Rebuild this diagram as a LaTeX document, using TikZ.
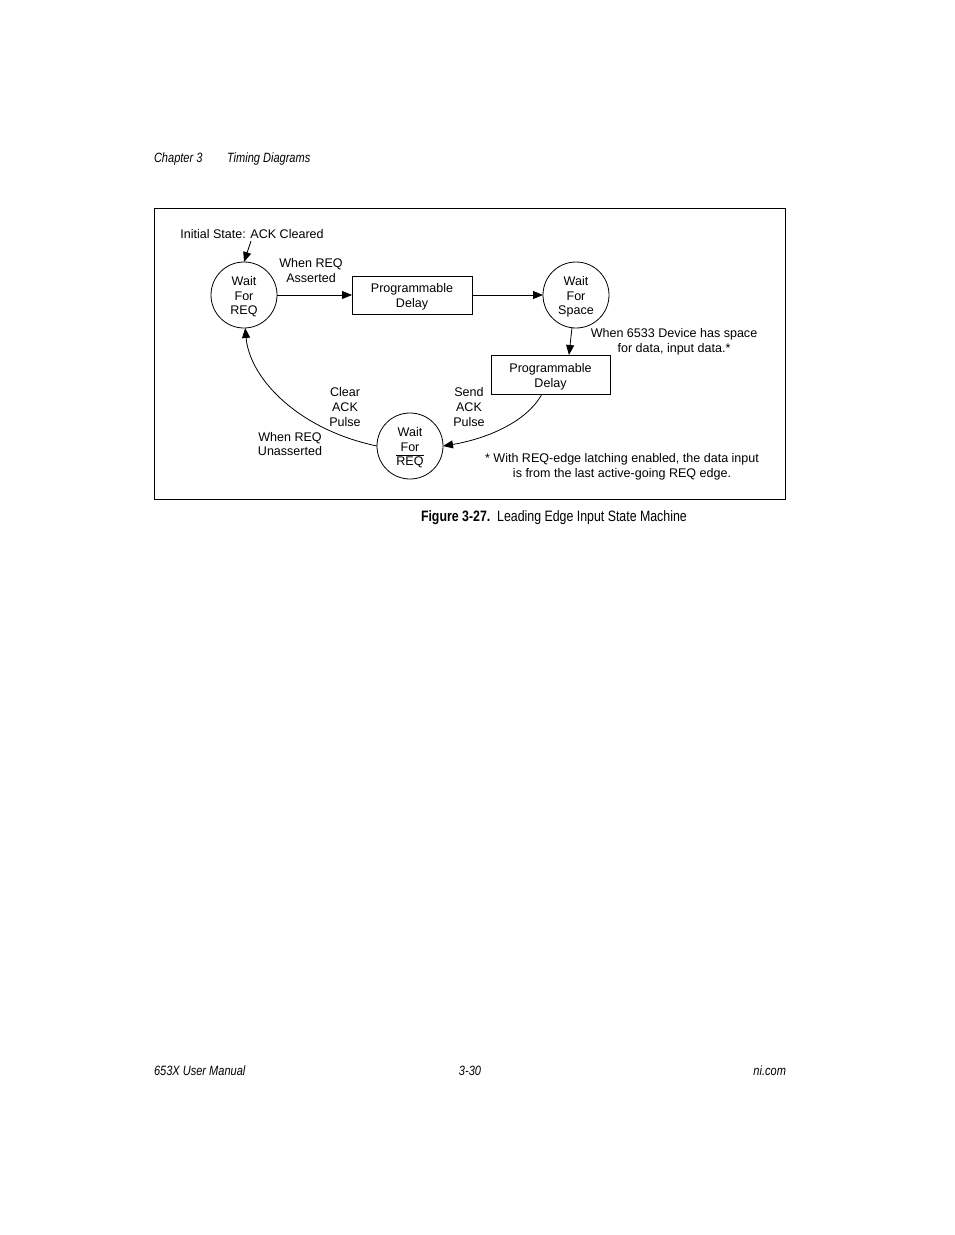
\documentclass[tikz,border=0pt]{standalone}
\usepackage{fontspec}
\setmainfont{Liberation Sans}
\newfontfamily\condfont[FakeStretch=0.82]{Liberation Sans}
\usetikzlibrary{arrows.meta}
\begin{document}
\begin{tikzpicture}[x=0.75pt,y=-0.75pt,
  every node/.style={inner sep=0pt,outer sep=0pt},
  txt/.style={font=\fontsize{9.4pt}{10.9pt}\selectfont,align=center},
  intxt/.style={txt,yshift=-1.5pt},
  hdr/.style={font=\condfont\itshape\fontsize{10.1pt}{11pt}\selectfont},
  state/.style={draw,circle,minimum size=49.5pt,line width=0.6pt},
  delaybox/.style={draw,rectangle,minimum width=90pt,minimum height=28.5pt,line width=0.6pt},
  arr/.style={line width=0.6pt,-{Triangle[length=7.5pt,width=6pt]}}]
\useasboundingbox (0,0) rectangle (954,1235);
% header and footer
\node[hdr,anchor=west] (hd1) at (154,159) {Chapter 3};
\node[hdr,anchor=west] (hd2) at (227,159) {Timing Diagrams};
\node[hdr,anchor=west] (ft1) at (154,1070.5) {653X User Manual};
\node[hdr] (ft2) at (470,1070.5) {3-30};
\node[hdr,anchor=east] (ft3) at (786,1070.5) {ni.com};
% frame
\draw[line width=0.6pt] (154,208) rectangle (785,499);
% states
\node[state,label={[intxt]center:{Wait\\For\\REQ}}] (s1) at (244,295) {};
\node[state,label={[intxt]center:{Wait\\For\\Space}}] (s2) at (576,295) {};
\node[state,label={[intxt]center:{Wait\\For\\$\overline{\hbox{REQ}}$}}] (s3) at (410,446) {};
\node[delaybox,label={[intxt]center:{Programmable\\Delay}}] (d1) at (412,295) {};
\node[delaybox,minimum width=89.25pt,minimum height=29.25pt,label={[intxt]center:{Programmable\\Delay}}] (d2) at (550.5,374.5) {};
% labels
\node[txt] (init) at (252,234.5) {Initial State: ACK Cleared};
\node[txt] (l1) at (311,270.5) {When REQ\\Asserted};
\node[txt] (l2) at (674,342) {When 6533 Device has space\\for data, input data.*};
\node[txt] (l3) at (469,407) {Send\\ACK\\Pulse};
\node[txt] (l4) at (345,407) {Clear\\ACK\\Pulse};
\node[txt] (l5) at (290,444) {When REQ\\Unasserted};
\node[txt] (fn) at (622,467) {* With REQ-edge latching enabled, the data input\\is from the last active-going REQ edge.};
% caption
\node[anchor=west,font=\condfont\fontsize{11.3pt}{13pt}\selectfont] (cap) at (421,518) {\textbf{Figure 3-27.}\ \ Leading Edge Input State Machine};
% connectors
\coordinate (initend) at (251,241);
\draw[arr] (initend) -- (s1.north);
\draw[arr] (s1.east) -- (d1.west);
\draw[arr] (d1.east) -- (s2.west);
\draw[arr] (s2.-97) -- (d2.north -| 569,0);
\draw[arr] (d2.south -| 542,0) .. controls (525,425) and (480,440) .. (s3.east);
\draw[arr] (s3.west) .. controls (300,430) and (250,380) .. (s1.-88);
\end{tikzpicture}
\end{document}
